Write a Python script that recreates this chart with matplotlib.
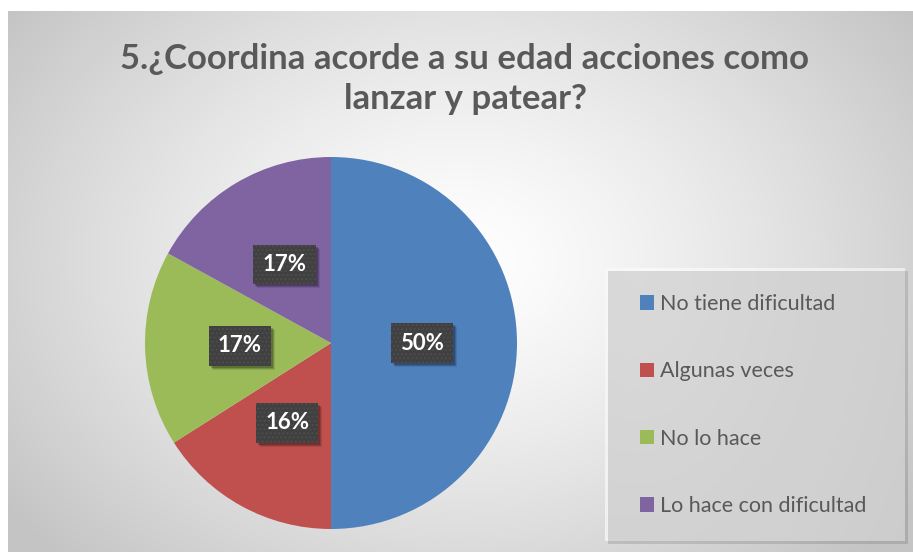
import numpy as np
import matplotlib
matplotlib.use("Agg")
import matplotlib.pyplot as plt
from matplotlib.patches import Rectangle

categories = ["No tiene dificultad", "Algunas veces", "No lo hace", "Lo hace con dificultad"]
values = [50, 16, 17, 17]
colors = ["#4f81bd", "#c0504d", "#9bbb59", "#8064a2"]
title = "5.¿Coordina acorde a su edad acciones como\nlanzar y patear?"

W, H = 913, 552
fig = plt.figure(figsize=(W / 100, H / 100), dpi=100)
fig.patch.set_facecolor("white")

# background chart area with radial gradient
bx0, by_top = 8, 11
bg = fig.add_axes([bx0 / W, 0, (W - bx0) / W, (H - by_top) / H])
bg.set_axis_off()
nx, ny = W - bx0, H - by_top
xx, yy = np.meshgrid(np.arange(nx), np.arange(ny))
cx, cy = 450, 250
d = np.sqrt(((xx - cx) / 560.0) ** 2 + ((yy - cy) / 420.0) ** 2)
d = np.clip(d, 0, 1)
v = 1.0 - 0.23 * d ** 1.3
img = np.dstack([v, v, v])
bg.imshow(img, aspect="auto", extent=[0, 1, 0, 1], origin="upper")
bg.set_xlim(0, 1)
bg.set_ylim(0, 1)

# legend box with soft gradient
lx0, ly0, lx1, ly1 = 605, 268, 905, 541
shadow = Rectangle(((lx0 + 3) / W, 1 - (ly1 + 3) / H), (lx1 - lx0) / W, (ly1 - ly0) / H,
                   transform=fig.transFigure, facecolor="k", alpha=0.12, edgecolor="none")
fig.patches.append(shadow)
lg = fig.add_axes([lx0 / W, 1 - ly1 / H, (lx1 - lx0) / W, (ly1 - ly0) / H])
lg.set_axis_off()
gx = np.linspace(0, 1, 300)
gy = np.linspace(0, 1, 270)
GX, GY = np.meshgrid(gx, gy)
gv = 0.975 - 0.06 * np.clip(np.sqrt((GX - 0.1) ** 2 + (GY * 0.6) ** 2) / 1.1, 0, 1)
lg.imshow(np.dstack([gv, gv, gv]), aspect="auto", extent=[0, 1, 0, 1], origin="upper",
          interpolation="nearest")

# pie
pcx, pcy, r = 331, 343, 186
ax = fig.add_axes([(pcx - r) / W, (H - pcy - r) / H, 2 * r / W, 2 * r / H])
wedges, texts, autotexts = ax.pie(values, colors=colors, startangle=90, counterclock=False,
                                  autopct="%1.0f%%", pctdistance=0.49, radius=1,
                                  wedgeprops=dict(linewidth=0))
ax.set_xlim(-1, 1)
ax.set_ylim(-1, 1)
for t in autotexts:
    t.set_zorder(5)
    t.set_color("white")
    t.set_fontsize(16)
    t.set_fontweight("bold")
    t.set_fontfamily("Lato")
    t.set_bbox(dict(boxstyle="square,pad=0.42", facecolor="#404040", edgecolor="#4d4d4d",
                    linewidth=0, hatch="...."))

# title
fig.text(465 / W, 1 - 79 / H, title, ha="center", va="center", fontsize=25,
         fontweight="bold", color="#595959", family="Lato", linespacing=1.3)

# legend
leg = fig.legend(wedges, categories, loc="upper left",
                 bbox_to_anchor=(640 / W, 1 - 294 / H), frameon=False,
                 prop=dict(family="Lato", size=15.5), labelcolor="#595959",
                 handlelength=0.65, handleheight=0.65, handletextpad=0.3,
                 labelspacing=2.2, borderpad=0, borderaxespad=0)

# soft shadows behind the data-label boxes
fig.canvas.draw()
inv = fig.transFigure.inverted()
for t in autotexts:
    bb = t.get_bbox_patch().get_window_extent()
    for k, a in ((4, 0.10), (3, 0.15), (2, 0.2)):
        (x0, y0) = inv.transform((bb.x0 + k, bb.y0 - k))
        (x1, y1) = inv.transform((bb.x1 + k, bb.y1 - k))
        rect = Rectangle((x0, y0), x1 - x0, y1 - y0, transform=fig.transFigure,
                         facecolor="k", alpha=a, edgecolor="none", zorder=4)
        ax.add_artist(rect)

fig.savefig("out.png", dpi=100)
